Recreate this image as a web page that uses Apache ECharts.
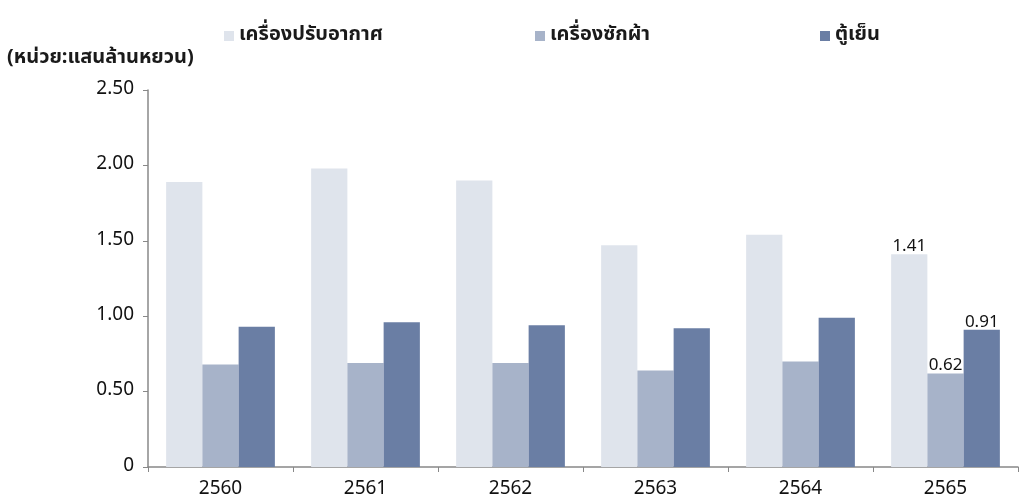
<!DOCTYPE html>
<html>
<head>
<meta charset="utf-8">
<script src="https://cdn.jsdelivr.net/npm/echarts@6/dist/echarts.min.js"></script>
<style>html,body{margin:0;padding:0;background:#fff;}#c{width:1024px;height:503px;}</style>
</head>
<body>
<div id="c"></div>
<script>
var categories = ['2560', '2561', '2562', '2563', '2564', '2565'];
var seriesNames = ['เครื่องปรับอากาศ', 'เครื่องซักผ้า', 'ตู้เย็น'];
var airCon = [1.89, 1.98, 1.90, 1.47, 1.54, 1.41];
var washer = [0.68, 0.69, 0.69, 0.64, 0.70, 0.62];
var fridge = [0.93, 0.96, 0.94, 0.92, 0.99, 0.91];
var yTicks = [0, 0.5, 1.0, 1.5, 2.0, 2.5];
var unitLabel = '(หน่วย:แสนล้านหยวน)';

var colors = ['#dfe4ec', '#a7b3c9', '#6a7ea4'];
var font = '"Noto Sans Thai","Noto Sans","DejaVu Sans",sans-serif';
var chart = echarts.init(document.getElementById('c'));

function labelLast(arr) {
  return arr.map(function (v, i) {
    var o = { value: v };
    if (i === arr.length - 1) {
      o.label = { show: true, position: 'top', distance: -2, color: '#111', fontSize: 17, fontFamily: font, formatter: function (p) { return p.value.toFixed(2); } };
    }
    return o;
  });
}

var legendPos = [219, 530, 815];
var legends = seriesNames.map(function (n, i) {
  return {
    data: [n], left: legendPos[i], top: 21, itemWidth: 10, itemHeight: 10, icon: 'rect',
    textStyle: { fontSize: 20, fontWeight: 'bold', color: '#1a1a1a', fontFamily: font },
    itemGap: 4, selectedMode: false
  };
});

chart.setOption({
  animation: false,
  color: colors,
  legend: legends,
  title: { text: unitLabel, left: 2, top: 44, textStyle: { fontSize: 20, fontWeight: 'bold', color: '#1a1a1a', fontFamily: font } },
  grid: { left: 148, top: 90, right: 6, bottom: 36, containLabel: false },
  xAxis: {
    type: 'category', data: categories,
    axisLine: { lineStyle: { color: '#888', width: 1.5 } },
    axisTick: { show: true, alignWithLabel: false, length: 5, lineStyle: { color: '#888' } },
    axisLabel: { color: '#111', fontSize: 19, fontFamily: font, margin: 14 }
  },
  yAxis: {
    type: 'value', min: 0, max: 2.5, interval: 0.5,
    axisLine: { show: true, lineStyle: { color: '#888', width: 1.5 } },
    axisTick: { show: true, length: 5, lineStyle: { color: '#888' } },
    splitLine: { show: false },
    axisLabel: { color: '#111', fontSize: 19, fontFamily: font, margin: 14,
      formatter: function (v) { return v === 0 ? '0' : v.toFixed(2); } }
  },
  series: [
    { name: seriesNames[0], type: 'bar', data: labelLast(airCon), barGap: '0%', barCategoryGap: '25%' },
    { name: seriesNames[1], type: 'bar', data: labelLast(washer), barGap: '0%', barCategoryGap: '25%' },
    { name: seriesNames[2], type: 'bar', data: labelLast(fridge), barGap: '0%', barCategoryGap: '25%' }
  ]
});
</script>
</body>
</html>
